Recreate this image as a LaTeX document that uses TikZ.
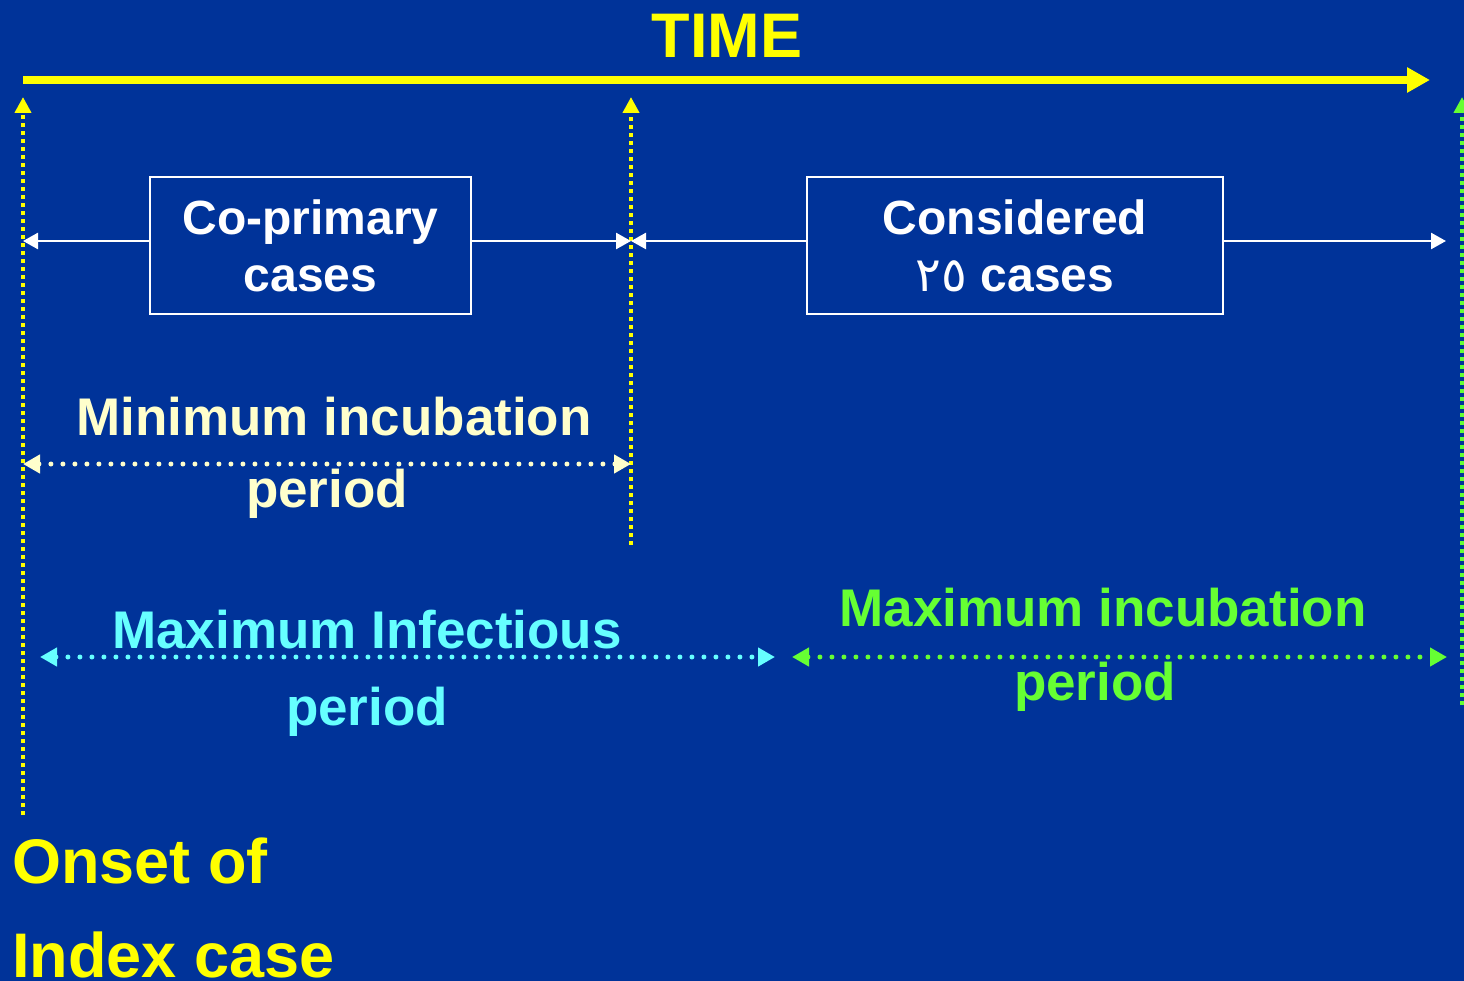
\documentclass[tikz,border=0pt]{standalone}
\usepackage{fontspec}
\setmainfont{Liberation Sans}
\newfontfamily\arabicfont[Script=Arabic]{DejaVu Sans}
\usetikzlibrary{arrows.meta}
\definecolor{bg}{RGB}{0,51,153}
\definecolor{cream}{RGB}{255,255,204}
\definecolor{cyanc}{RGB}{102,255,255}
\definecolor{greenc}{RGB}{102,255,51}
\definecolor{yel}{RGB}{255,255,0}
\begin{document}
\begin{tikzpicture}[x=1pt,y=-1pt,
  boxnode/.style={draw=white, line width=2pt, text=white, align=center, inner sep=0pt,
    font=\bfseries\fontsize{48}{57}\selectfont},
  bigtext/.style={font=\bfseries\fontsize{63}{72}\selectfont, text=yel, inner sep=0pt},
  midtext/.style={font=\bfseries\fontsize{53}{60}\selectfont, inner sep=0pt, anchor=base},
  warr/.style={draw=white, line width=2.5pt, -{Triangle[length=15pt,width=16pt]}},
  vdot/.style={line width=4pt, dash pattern=on 4pt off 4pt, -{Triangle[length=16pt,width=16pt]}},
  rdot/.style={line width=5pt, line cap=round, dash pattern=on 0pt off 12pt,
    {Triangle[length=17pt,width=18pt]}-{Triangle[length=17pt,width=18pt]}},
]
\useasboundingbox (0,0) rectangle (1464,981);
\fill[bg] (0,0) rectangle (1464,981);

% TIME axis
\node[bigtext, anchor=base] (time) at (727,58) {TIME};
\coordinate (t0) at (23,80);
\coordinate (t1) at (1430,80);
\draw[yel, line width=8pt, -{Triangle[length=23pt,width=24pt]}] (t0) -- (t1);

% vertical markers
\coordinate (v1b) at (23,815);  \coordinate (v1t) at (23,97);
\coordinate (v2b) at (631,545); \coordinate (v2t) at (631,97);
\coordinate (v3b) at (1462,705); \coordinate (v3t) at (1462,97);
\draw[vdot, yel] (v1b) -- (v1t);
\draw[vdot, yel] (v2b) -- (v2t);
\draw[vdot, greenc] (v3b) -- (v3t);

% boxes
\node[boxnode, minimum width=321pt, minimum height=137pt] (box1) at (310.5,245.5) {Co-primary\\cases};
\node[boxnode, minimum width=416pt, minimum height=137pt] (box2) at (1015,245.5) {Considered\\{\arabicfont\mdseries ٢٥} cases};

\coordinate (a1) at (23,241);
\coordinate (a2) at (631,241);
\coordinate (a3) at (1446,241);
\draw[warr] (box1.west |- a1) -- (a1);
\draw[warr] (box1.east |- a2) -- (a2);
\draw[warr] (box2.west |- a2) -- (a2);
\draw[warr] (box2.east |- a3) -- (a3);

% minimum incubation period
\coordinate (m0) at (23,464);
\coordinate (m1) at (631,464);
\draw[rdot, cream] (m0) -- (m1);
\node[midtext, text=cream] (minA) at (334,435) {Minimum incubation};
\node[midtext, text=cream] (minB) at (327,507) {period};

% maximum infectious period
\coordinate (c0) at (40,657);
\coordinate (c1) at (775,657);
\draw[rdot, cyanc] (c0) -- (c1);
\node[midtext, text=cyanc] (infA) at (367,648) {Maximum Infectious};
\node[midtext, text=cyanc] (infB) at (367,725) {period};

% maximum incubation period
\coordinate (g0) at (792,657);
\coordinate (g1) at (1447,657);
\draw[rdot, greenc] (g0) -- (g1);
\node[midtext, text=greenc] (incA) at (1103,626) {Maximum incubation};
\node[midtext, text=greenc] (incB) at (1095,700) {period};

% onset of index case
\node[bigtext, anchor=base west] (onset) at (12,883) {Onset of};
\node[bigtext, anchor=base west] (index) at (12,977) {Index case};
\end{tikzpicture}
\end{document}
